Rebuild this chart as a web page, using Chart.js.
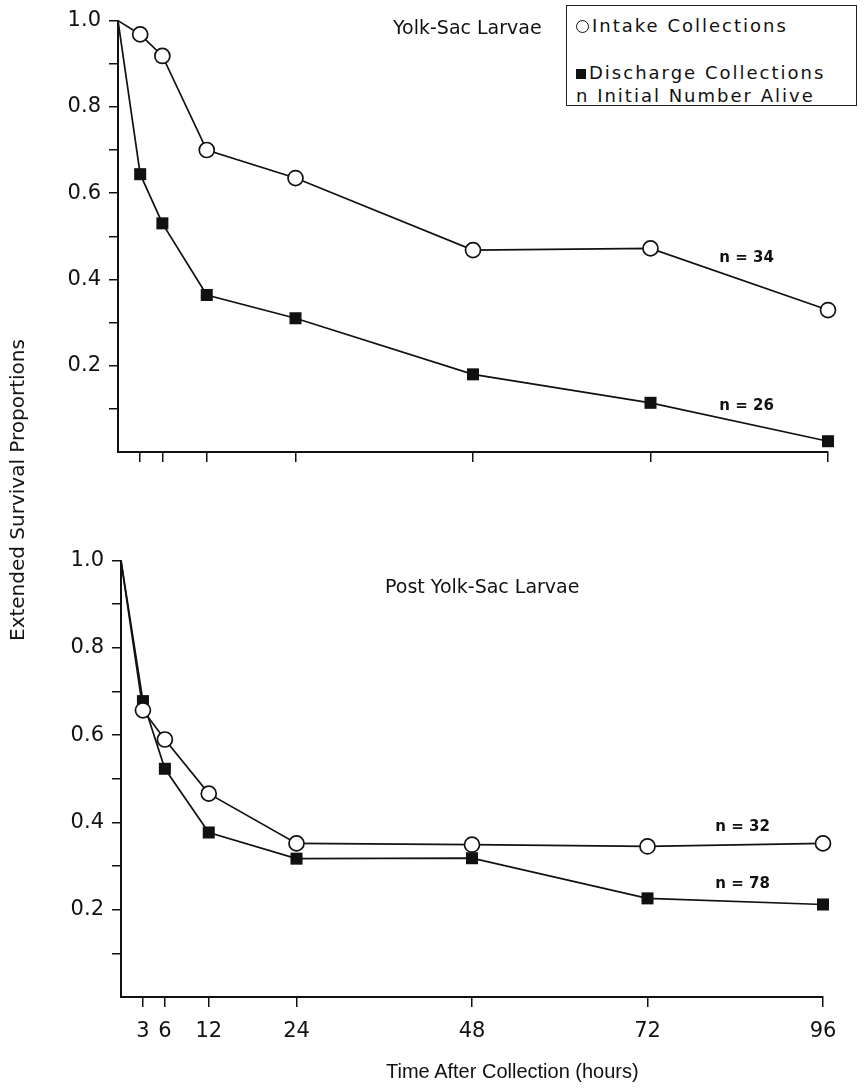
<!DOCTYPE html>
<html>
<head>
<meta charset="utf-8">
<title>Extended Survival Proportions</title>
<script src="https://cdn.jsdelivr.net/npm/chart.js@4.4.1/dist/chart.umd.min.js"></script>
<style>
  html, body { margin: 0; padding: 0; background: #fff; }
  body { width: 868px; height: 1088px; position: relative; overflow: hidden;
         font-family: "DejaVu Sans", "Liberation Sans", sans-serif; color: #111; }
  .wrap { position: absolute; left: 0; width: 868px; }
  #top { top: 0; height: 480px; }
  #bottom { top: 540px; height: 548px; }
  .panel-title { position: absolute; font-size: 19px; white-space: nowrap; }
  .ytitle { position: absolute; left: 17px; top: 490px; font-size: 20px; white-space: nowrap;
            transform: translate(-50%, -50%) rotate(-90deg); }
  .xtitle { position: absolute; left: 386px; top: 1060px; font-size: 20px; white-space: nowrap;
            font-family: "Liberation Sans", sans-serif; }
  .key { position: absolute; left: 566px; top: 5px; width: 289px; height: 99px;
         border: 1.5px solid #222; font-size: 18px; letter-spacing: 2px; background: #fff; }
  .key div { position: absolute; left: 9px; white-space: nowrap; }
  .circ { display: inline-block; width: 11px; height: 11px; border: 1.5px solid #111;
          border-radius: 50%; vertical-align: -1px; margin-right: 3px; }
  .sq { display: inline-block; width: 10px; height: 10px; background: #111;
        vertical-align: 0; margin-right: 3px; }
</style>
</head>
<body>
<div class="wrap" id="top"><canvas id="chartTop"></canvas></div>
<div class="wrap" id="bottom"><canvas id="chartBottom"></canvas></div>

<div class="panel-title" style="left:393px; top:16px;">Yolk-Sac Larvae</div>
<div class="panel-title" style="left:385px; top:575px;">Post Yolk-Sac Larvae</div>
<div class="ytitle">Extended Survival Proportions</div>
<div class="xtitle">Time After Collection (hours)</div>

<div class="key">
  <div style="top:9px;"><span class="circ"></span>Intake Collections</div>
  <div style="top:56px;"><span class="sq"></span>Discharge Collections</div>
  <div style="top:79px;">n Initial Number Alive</div>
</div>

<script>
// hours after collection
var hours = [0, 3, 6, 12, 24, 48, 72, 96];
var hourTicks = [3, 6, 12, 24, 48, 72, 96];
var propTicks = [0.1, 0.2, 0.3, 0.4, 0.5, 0.6, 0.7, 0.8, 0.9, 1.0];

// yolk-sac larvae
var yolkIntake    = [1.0, 0.968, 0.918, 0.70, 0.635, 0.468, 0.472, 0.329];
var yolkDischarge = [1.0, 0.644, 0.53, 0.364, 0.31, 0.18, 0.114, 0.025];

// post yolk-sac larvae
var postIntake    = [1.0, 0.657, 0.59, 0.466, 0.352, 0.349, 0.345, 0.352];
var postDischarge = [1.0, 0.678, 0.523, 0.377, 0.317, 0.318, 0.226, 0.212];

// initial numbers alive
var yolkN = [{ text: 'n = 34', x: 85, y: 0.45 }, { text: 'n = 26', x: 85, y: 0.107 }];
var postN = [{ text: 'n = 32', x: 85, y: 0.39 }, { text: 'n = 78', x: 85, y: 0.258 }];

var ink = '#111';
var tickFont = { family: 'DejaVu Sans', size: 21 };

function pts(ys) {
  return hours.map(function(h, i) { return { x: h, y: ys[i] }; });
}

// no marker on the common starting point
function markerSize(r) {
  return function(c) { return c.dataIndex === 0 ? 0 : r; };
}

// writes the "n = .." notes in data units
var nLabels = {
  id: 'nLabels',
  afterDatasetsDraw: function(chart, args, opts) {
    var c = chart.ctx;
    c.save();
    c.fillStyle = ink;
    c.font = 'bold 15px "DejaVu Sans"';
    c.textAlign = 'center';
    c.textBaseline = 'middle';
    (opts.items || []).forEach(function(it) {
      c.fillText(it.text, chart.scales.x.getPixelForValue(it.x), chart.scales.y.getPixelForValue(it.y));
    });
    c.restore();
  }
};

function makeChart(id, intake, discharge, notes, showHours, yWidth, pad, xHeight) {
  var ctx = document.getElementById(id).getContext('2d');
  return new Chart(ctx, {
    type: 'line',
    data: {
      datasets: [{
        label: 'Intake Collections',
        data: pts(intake),
        clip: false,
        borderColor: ink,
        borderWidth: 1.7,
        backgroundColor: '#fff',
        pointStyle: 'circle',
        pointRadius: markerSize(7.5),
        pointBorderWidth: 1.7,
        pointBorderColor: ink,
        pointBackgroundColor: '#fff',
        tension: 0
      }, {
        label: 'Discharge Collections',
        data: pts(discharge),
        clip: false,
        borderColor: ink,
        borderWidth: 1.7,
        pointStyle: 'rect',
        pointRadius: markerSize(8.5),
        pointBorderWidth: 0,
        pointBackgroundColor: ink,
        tension: 0
      }]
    },
    options: {
      responsive: true,
      maintainAspectRatio: false,
      animation: false,
      events: [],
      layout: { padding: pad },
      plugins: {
        legend: { display: false },
        tooltip: { enabled: false },
        nLabels: { items: notes }
      },
      scales: {
        x: {
          type: 'linear',
          min: 0,
          max: 96,
          afterBuildTicks: function(s) { s.ticks = hourTicks.map(function(v) { return { value: v }; }); },
          afterFit: function(s) { s.height = xHeight; },
          border: { color: ink, width: 2 },
          grid: { drawOnChartArea: false, color: ink, tickLength: 10, lineWidth: 1.5 },
          ticks: {
            display: showHours,
            color: ink,
            font: tickFont,
            padding: 12,
            maxRotation: 0,
            autoSkip: false
          }
        },
        y: {
          min: 0,
          max: 1,
          afterBuildTicks: function(s) { s.ticks = propTicks.map(function(v) { return { value: v }; }); },
          afterFit: function(s) { s.width = yWidth; },
          border: { color: ink, width: 2 },
          grid: { drawOnChartArea: false, color: ink, tickLength: 9, lineWidth: 1.5 },
          ticks: {
            color: ink,
            font: tickFont,
            padding: 8,
            autoSkip: false,
            callback: function(v) {
              var t = Math.round(v * 10);
              return t % 2 === 0 ? v.toFixed(1) : '';
            }
          }
        }
      }
    },
    plugins: [nLabels]
  });
}

makeChart('chartTop', yolkIntake, yolkDischarge, yolkN, false, 118, { top: 14, right: 40, bottom: 0, left: 0 }, 28);
makeChart('chartBottom', postIntake, postDischarge, postN, true, 121, { top: 19, right: 45, bottom: 0, left: 0 }, 91);
</script>
</body>
</html>
